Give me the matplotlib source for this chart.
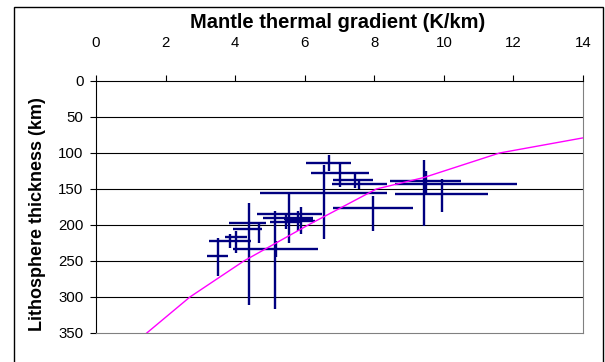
import matplotlib.pyplot as plt
from matplotlib.patches import Rectangle

# lithosphere estimates: centre point plus the extent of each error bar
grad = [6.70, 7.00, 7.45, 7.55, 6.55, 7.95, 9.48, 9.43, 9.95,
        5.56, 5.15, 5.80, 5.90, 5.46, 4.40, 4.03, 4.69, 3.85, 3.50, 5.17]
grad_lo = [6.05, 6.17, 6.80, 6.78, 4.71, 6.80, 8.45, 8.59, 8.59,
           4.64, 4.81, 5.40, 5.50, 5.00, 3.83, 3.71, 3.95, 3.25, 3.18, 3.95]
grad_hi = [7.33, 7.85, 7.97, 8.36, 8.36, 9.10, 10.50, 12.09, 11.26,
           6.49, 6.24, 6.24, 6.30, 5.90, 4.90, 4.33, 4.76, 4.45, 3.80, 6.39]
thick = [114, 128, 138, 143, 155, 176, 139, 143, 157,
         185, 190, 192, 194, 196, 197, 216, 205, 222, 243, 233]
thick_lo = [103, 112, 128, 136, 117, 160, 125, 110, 136,
            156, 180, 181, 175, 186, 170, 209, 198, 212, 218, 222]
thick_hi = [125, 147, 149, 150, 220, 208, 158, 201, 182,
            225, 317, 209, 212, 205, 311, 239, 225, 232, 271, 245]

# model curve
curve_grad = [1.46, 2.70, 4.25, 6.10, 8.06, 9.43, 11.6, 14.0]
curve_thick = [350, 300, 250, 200, 150, 134, 100, 79]

fig = plt.figure(figsize=(6.05, 3.62), dpi=100)
plt.rcParams['font.family'] = ['Liberation Sans', 'DejaVu Sans']
ax = fig.add_axes([96 / 605, 1 - 333 / 362, (583 - 96) / 605, (333 - 81) / 362])

xerr = [[g - lo for g, lo in zip(grad, grad_lo)], [hi - g for g, hi in zip(grad, grad_hi)]]
yerr = [[t - lo for t, lo in zip(thick, thick_lo)], [hi - t for t, hi in zip(thick, thick_hi)]]
ax.errorbar(grad, thick, xerr=xerr, yerr=yerr, fmt='none', ecolor='#000080',
            elinewidth=1.7, capsize=0, zorder=3)

ax.plot(curve_grad, curve_thick, color='#FF00FF', lw=1.0, zorder=4)

ax.set_xlim(0, 14)
ax.set_ylim(350, 0)
ax.set_xticks(range(0, 15, 2))
ax.set_yticks(range(0, 351, 50))
ax.xaxis.tick_top()
ax.tick_params(axis='x', direction='out', length=4, width=0.8, pad=18.5, labelsize=10.8)
ax.tick_params(axis='y', direction='out', length=4, width=0.8, pad=5, labelsize=10.8)
for y in range(50, 350, 50):
    ax.axhline(y, color='black', lw=0.8, zorder=1)

ax.spines['top'].set_color('black')
ax.spines['left'].set_color('black')
ax.spines['right'].set_color('#808080')
ax.spines['bottom'].set_color('#808080')

fig.text(338 / 605, 1 - 22 / 362, 'Mantle thermal gradient (K/km)', fontsize=14.5,
         fontweight='bold', ha='center', va='center')
fig.text(38 / 605, 1 - 214 / 362, 'Lithosphere thickness (km)', fontsize=13,
         fontweight='bold', ha='center', va='center', rotation=90)

# outer chart frame
fig.patches.append(Rectangle((14 / 605, -0.1), (603 - 14) / 605, 1.1 - 7 / 362,
                             transform=fig.transFigure, fill=False, ec='black', lw=1))

fig.savefig('out.png', dpi=100)
